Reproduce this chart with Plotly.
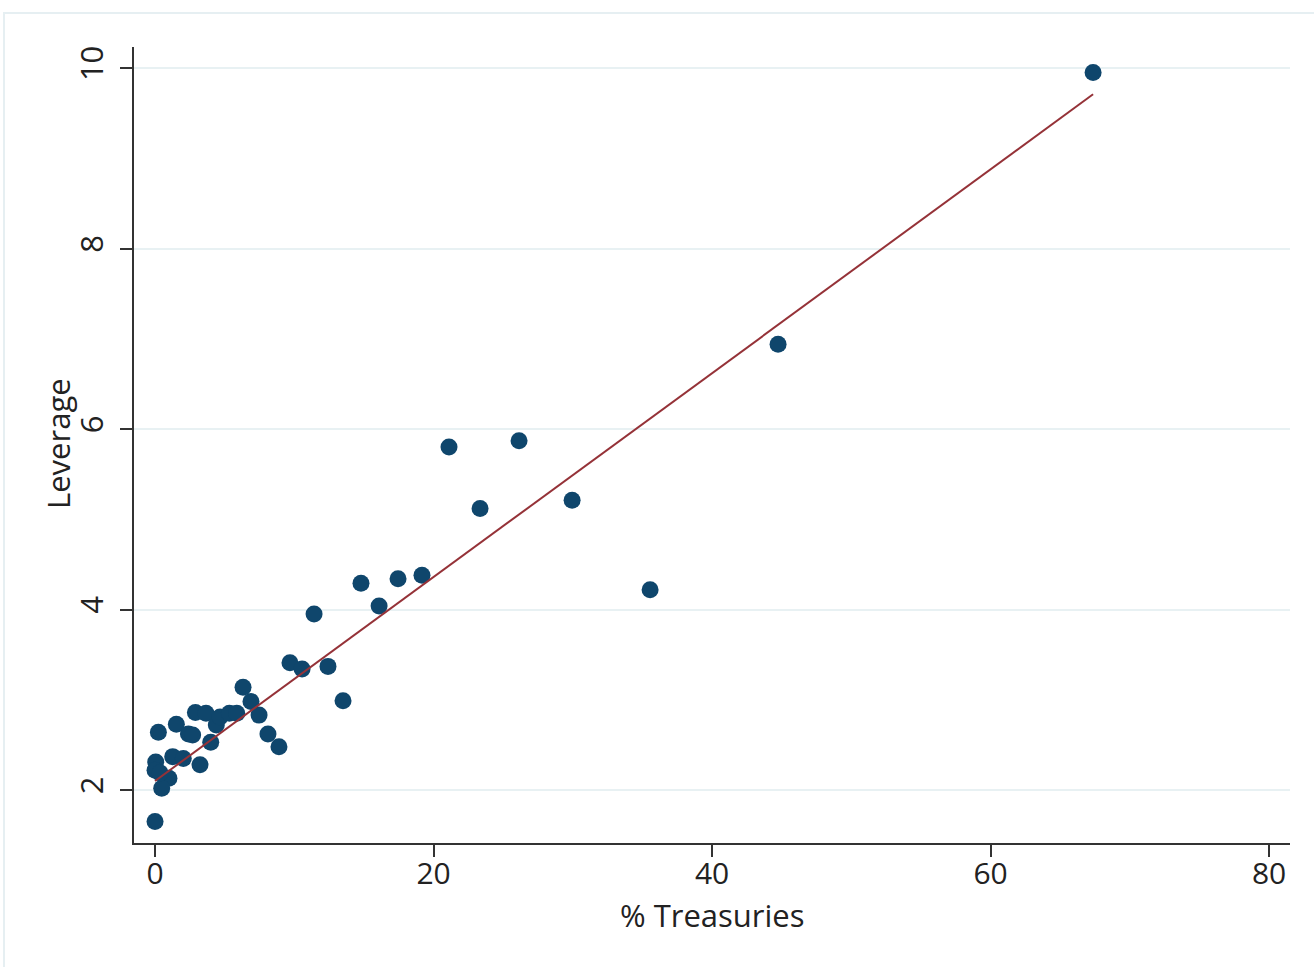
import plotly.graph_objects as go

# Data
pct_treasuries = [67.36, 44.74, 21.11, 26.14, 23.34, 29.95, 35.55, 14.79, 17.45, 19.17,
                  16.09, 11.42, 9.69, 10.56, 12.42, 13.50, 6.32, 6.89, 7.47, 8.11,
                  8.90, 0.24, 1.53, 2.40, 2.70, 2.90, 3.66, 4.40, 4.67, 5.34,
                  5.87, 4.00, 3.23, 1.27, 2.03, 0.05, 0.00, 1.00, 0.48, 0.00, 0.36]
leverage = [9.95, 6.94, 5.80, 5.87, 5.12, 5.21, 4.22, 4.29, 4.34, 4.38,
            4.04, 3.95, 3.41, 3.34, 3.37, 2.99, 3.14, 2.98, 2.83, 2.62,
            2.48, 2.64, 2.73, 2.62, 2.61, 2.86, 2.85, 2.72, 2.81, 2.85,
            2.85, 2.53, 2.28, 2.37, 2.35, 2.31, 2.22, 2.13, 2.02, 1.65, 2.19]

fit_x = [0.0, 67.36]
fit_y = [2.10, 9.71]

x_ticks = [0, 20, 40, 60, 80]
y_ticks = [2, 4, 6, 8, 10]

x_title = "% Treasuries"
y_title = "Leverage"

W, H = 1314, 967
L, R, T, B = 134, 24, 47, 124

font_family = "Open Sans, Noto Sans, sans-serif"

fig = go.Figure()
fig.add_trace(go.Scatter(
    x=pct_treasuries, y=leverage, mode="markers",
    marker=dict(size=17, color="#0f466c", line=dict(width=0)),
    showlegend=False, hoverinfo="x+y"))
fig.add_trace(go.Scatter(
    x=fit_x, y=fit_y, mode="lines",
    line=dict(color="#953238", width=2),
    showlegend=False))

pw = W - L - R
ph = H - T - B
fig.add_shape(type="rect", xref="paper", yref="paper",
              x0=(4 - L) / pw, x1=(W + 5 - L) / pw,
              y0=-(H + 5 - (H - B)) / ph, y1=(H - B - 13) / ph,
              line=dict(color="#e6eff2", width=2), fillcolor="rgba(0,0,0,0)",
              layer="below")

# Axis titles placed as annotations
fig.add_annotation(text=x_title, xref="paper", yref="paper",
                   x=0.5 + (712 - (L + pw / 2)) / pw, y=-(915 - (H - B)) / ph,
                   xanchor="center", yanchor="middle", showarrow=False,
                   font=dict(size=31, family=font_family, color="#222222"))
fig.add_annotation(text=y_title, xref="paper", yref="paper",
                   x=(58 - L) / pw, y=(H - B - 444) / ph,
                   xanchor="center", yanchor="middle", showarrow=False,
                   textangle=-90,
                   font=dict(size=31, family=font_family, color="#222222"))

fig.update_layout(
    width=W, height=H,
    margin=dict(l=L, r=R, t=T, b=B),
    paper_bgcolor="white", plot_bgcolor="white",
    font=dict(family=font_family, color="#222222", size=31),
    xaxis=dict(
        range=[-1.51, 81.5], tickvals=x_ticks,
        showline=True, linecolor="#333333", linewidth=2,
        ticks="outside", ticklen=12, tickwidth=2, tickcolor="#333333",
        showgrid=False, zeroline=False,
        tickfont=dict(size=30), ticklabelstandoff=-9,
    ),
    yaxis=dict(
        range=[1.413, 10.233], tickvals=y_ticks,
        showline=True, linecolor="#333333", linewidth=2,
        ticks="outside", ticklen=12, tickwidth=2, tickcolor="#333333",
        showgrid=True, gridcolor="#e8f1f3", gridwidth=2,
        zeroline=False, tickangle=-90,
        tickfont=dict(size=31), ticklabelstandoff=5,
    ),
)

fig.write_html("out.html")
